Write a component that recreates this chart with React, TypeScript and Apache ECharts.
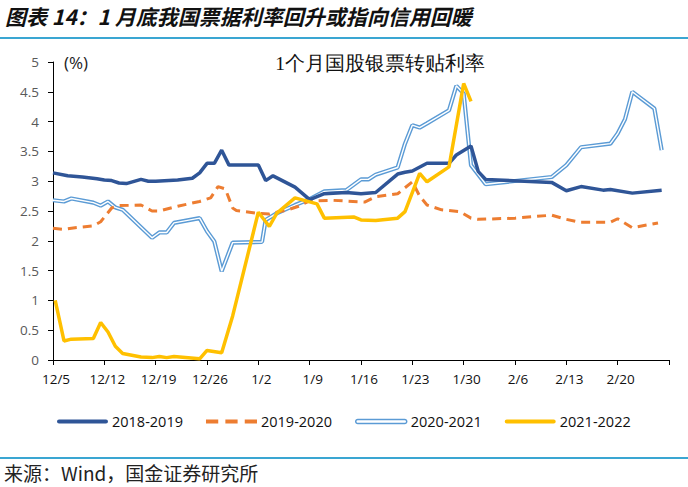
import React, { useEffect, useRef } from 'react';
import * as echarts from 'echarts';

const xLabels = ['12/5', '12/12', '12/19', '12/26', '1/2', '1/9', '1/16', '1/23', '1/30', '2/6', '2/13', '2/20', ''];
const yTicks = [0, 0.5, 1, 1.5, 2, 2.5, 3, 3.5, 4, 4.5, 5];
const seriesNames = ['2018-2019', '2019-2020', '2020-2021', '2021-2022'];

// [day offset from 12/5, rate %]
const s1819 = [
  [0, 3.14], [2, 3.09], [4, 3.07], [6, 3.04], [7, 3.02], [8, 3.01], [9, 2.97], [10, 2.96], [12, 3.03],
  [13, 3.0], [14, 3.0], [17, 3.02], [19, 3.05], [20, 3.14], [21, 3.3], [22, 3.3], [23, 3.52], [24, 3.27],
  [28, 3.27], [29, 3.01], [30, 3.09], [33, 2.9], [35, 2.69], [37, 2.79], [40, 2.81], [42, 2.79], [44, 2.81],
  [47, 3.12], [48, 3.15], [49, 3.17], [51, 3.3], [54, 3.3], [55, 3.44], [57, 3.59], [58, 3.16], [59, 3.03],
  [68, 2.98], [70, 2.84], [72, 2.91], [75, 2.85], [76, 2.86], [79, 2.8], [83, 2.85],
];
const s1920 = [
  [0, 2.21], [1.5, 2.19], [3, 2.22], [5.5, 2.25], [6.5, 2.32], [8, 2.55], [9, 2.59], [12, 2.6], [13.5, 2.5],
  [14.5, 2.5], [17, 2.58], [20, 2.66], [21.5, 2.72], [22.5, 2.91], [23.5, 2.87], [24.5, 2.55], [25, 2.51],
  [28, 2.46], [29.5, 2.45], [32, 2.52], [33.5, 2.58], [35, 2.67], [38, 2.68], [42.5, 2.65], [44, 2.74],
  [47, 2.79], [49, 2.99], [50, 2.75], [51, 2.6], [53, 2.52], [55.5, 2.49], [57, 2.38], [58, 2.36], [63, 2.38],
  [68, 2.43], [70, 2.36], [72, 2.31], [76, 2.31], [77, 2.37], [79, 2.22], [82.5, 2.3],
];
const s2021 = [
  [0, 2.68], [1.5, 2.66], [2.5, 2.71], [5.5, 2.64], [6.5, 2.59], [7.5, 2.66], [8.5, 2.56], [9.5, 2.52],
  [13.5, 2.05], [14.5, 2.14], [15.5, 2.14], [16.5, 2.3], [20, 2.38], [21, 2.16], [22, 1.99], [23, 1.49],
  [24.5, 1.97], [28.5, 1.98], [29, 2.35], [30.5, 2.46], [33, 2.6], [35, 2.7], [37, 2.83], [40, 2.85],
  [42, 3.03], [43, 3.03], [44, 3.11], [47, 3.23], [48, 3.63], [49, 3.94], [50, 3.9], [51, 3.97], [54, 4.19],
  [55, 4.6], [56, 4.47], [57, 3.27], [59, 2.95], [68, 3.07], [70, 3.27], [72, 3.57], [76, 3.63], [77, 3.8],
  [78, 4.04], [79, 4.5], [82, 4.22], [83, 3.52],
];
const s2122 = [
  [0.3, 1.0], [1.5, 0.32], [2.5, 0.35], [5.5, 0.36], [6.5, 0.63], [7.5, 0.47], [8.5, 0.23], [9.5, 0.11],
  [12, 0.05], [13.5, 0.04], [14.5, 0.06], [15.5, 0.04], [16.5, 0.06], [20, 0.02], [21, 0.16], [23, 0.12],
  [24.5, 0.74], [28, 2.48], [29.5, 2.24], [30.5, 2.46], [33, 2.72], [36, 2.62], [37, 2.38], [41, 2.4],
  [42, 2.35], [44, 2.34], [47, 2.38], [48, 2.49], [50, 3.13], [51, 2.99], [54, 3.24], [56, 4.64], [57, 4.34],
];

const C_DARK = '#2F5597';
const C_ORANGE = '#ED7D31';
const C_LIGHT = '#5B9BD5';
const C_YELLOW = '#FFC000';
const C_RULE = '#3AA6D2';

export default function App() {
  const ref = useRef<HTMLDivElement>(null);
  useEffect(() => {
    document.body.style.margin = '0';
    const chart = echarts.init(ref.current!, null, { renderer: 'svg' });
    const axisFont = { fontFamily: 'Open Sans, Noto Sans, sans-serif', fontSize: 13.5, color: '#404040' };
    chart.setOption({
      animation: false,
      backgroundColor: '#fff',
      grid: { left: 53, right: 19, top: 62, bottom: 127, containLabel: false },
      xAxis: {
        type: 'value',
        min: 0,
        max: 84,
        interval: 7,
        axisLine: { show: true, lineStyle: { color: '#000', width: 1 } },
        axisTick: { show: true, length: 5, lineStyle: { color: '#000' } },
        splitLine: { show: false },
        axisLabel: {
          ...axisFont,
          color: '#111',
          margin: 12,
          padding: [0, 0, 0, 6],
          formatter: (v: number) => xLabels[Math.round(v / 7)] ?? '',
        },
      },
      yAxis: {
        type: 'value',
        min: yTicks[0],
        max: yTicks[yTicks.length - 1],
        interval: 0.5,
        axisLine: { show: true, lineStyle: { color: '#000', width: 1 } },
        axisTick: { show: true, length: 5, lineStyle: { color: '#000' } },
        splitLine: { show: false },
        axisLabel: { ...axisFont, color: '#595959', margin: 14 },
      },
      legend: {
        left: 52,
        top: 409,
        itemWidth: 51,
        itemHeight: 5,
        itemGap: 23,
        textStyle: { fontFamily: 'Open Sans, Noto Sans, sans-serif', fontSize: 14.5, color: '#111', padding: [0, 0, 0, -1] },
        data: [
          { name: seriesNames[0], icon: 'path://M2,0h46a2,2 0 0 1 0,4h-46a2,2 0 0 1 0,-4z', itemStyle: { color: C_DARK } },
          { name: seriesNames[1], icon: 'path://M0,0h12v4h-12z M19,0h12v4h-12z M38,0h12v4h-12z', itemStyle: { color: C_ORANGE } },
          { name: seriesNames[2], icon: 'path://M2,0h46a2,2 0 0 1 0,4h-46a2,2 0 0 1 0,-4z', itemStyle: { color: '#fff', borderColor: C_LIGHT, borderWidth: 1.5 } },
          { name: seriesNames[3], icon: 'path://M2,0h46a2,2 0 0 1 0,4h-46a2,2 0 0 1 0,-4z', itemStyle: { color: C_YELLOW } },
        ],
      },
      series: [
        {
          name: seriesNames[0], type: 'line', data: s1819, symbol: 'none', z: 4,
          lineStyle: { color: C_DARK, width: 3.5 }, itemStyle: { color: C_DARK },
        },
        {
          name: seriesNames[1], type: 'line', data: s1920, symbol: 'none', z: 3,
          lineStyle: { color: C_ORANGE, width: 3, type: [9, 6] }, itemStyle: { color: C_ORANGE },
        },
        {
          name: seriesNames[2], type: 'line', data: s2021, symbol: 'none', z: 2,
          lineStyle: { color: C_LIGHT, width: 4.2 }, itemStyle: { color: C_LIGHT },
        },
        {
          name: seriesNames[2] + ' ', type: 'line', data: s2021, symbol: 'none', z: 2.5,
          lineStyle: { color: '#fff', width: 1.4 }, itemStyle: { color: '#fff' }, silent: true,
        },
        {
          name: seriesNames[3], type: 'line', data: s2122, symbol: 'none', z: 5,
          lineStyle: { color: C_YELLOW, width: 3.5 }, itemStyle: { color: C_YELLOW },
        },
      ],
      graphic: [
        {
          type: 'text', left: 5, top: 5,
          style: {
            text: '图表 14：1 月底我国票据利率回升或指向信用回暖',
            font: 'italic bold 21px "Noto Sans CJK SC", sans-serif', fill: '#111',
          },
        },
        { type: 'line', shape: { x1: 0, y1: 38, x2: 688, y2: 38 }, style: { stroke: C_RULE, lineWidth: 2 } },
        {
          type: 'text', x: 380, y: 63,
          style: {
            text: '1个月国股银票转贴利率', align: 'center', verticalAlign: 'middle',
            font: '19.5px serif', fill: '#111',
          },
        },
        {
          type: 'text', x: 64, y: 62,
          style: { text: '(%)', verticalAlign: 'middle', font: '17px "Open Sans", sans-serif', fill: '#222' },
        },
        { type: 'line', shape: { x1: 0, y1: 458, x2: 688, y2: 458 }, style: { stroke: C_RULE, lineWidth: 2 } },
        {
          type: 'text', x: 4, y: 472,
          style: {
            text: '来源：Wind，国金证券研究所', verticalAlign: 'middle',
            font: '19px "Noto Sans CJK SC", sans-serif', fill: '#222',
          },
        },
      ],
    });
    return () => chart.dispose();
  }, []);
  return <div ref={ref} style={{ width: 688, height: 487 }} />;
}
